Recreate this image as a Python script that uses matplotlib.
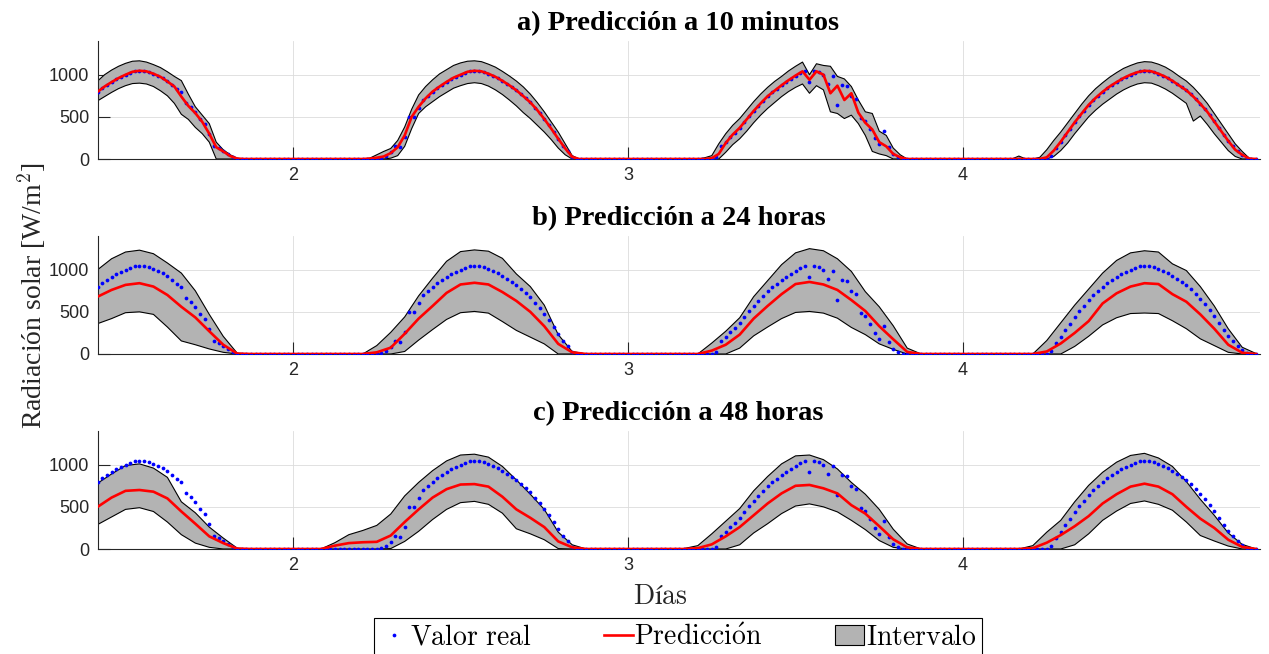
import numpy as np
import matplotlib
matplotlib.use("Agg")
import matplotlib.pyplot as plt
from matplotlib.lines import Line2D
from matplotlib.patches import Patch

plt.rcParams["font.family"] = ["Liberation Sans", "DejaVu Sans"]
plt.rcParams["mathtext.fontset"] = "cm"

# measured radiation, one value every 20 min (day 1 starts at 10:00)
real = [
    [797, 842, 877, 912, 947, 972, 1000, 1025, 1040, 1047, 1045, 1033, 1012, 985, 958, 920,
     880, 830, 790, 665, 615, 560, 475, 415, 300, 160, 125, 95, 60, 22, 5,
     0, 0, 0, 0, 0, 0, 0, 0, 0, 0, 0],
    [0, 0, 0, 0, 0, 0, 0, 0, 0, 0, 0, 0, 0, 0, 0, 0, 0, 0,
     5, 15, 35, 80, 160, 145, 260, 500, 500, 600, 700, 752, 797, 842, 877, 912, 947, 972,
     1000, 1025, 1040, 1047, 1045, 1033, 1012, 985, 958, 928, 893, 855, 815, 770, 722, 672,
     610, 547, 475, 400, 320, 240, 160, 90, 25,
     0, 0, 0, 0, 0, 0, 0, 0, 0, 0, 0],
    [0, 0, 0, 0, 0, 0, 0, 0, 0, 0, 0, 0, 0, 0, 0, 0, 0, 0,
     5, 20, 150, 200, 260, 310, 370, 440, 510, 575, 630, 690, 745, 790, 830, 875, 915, 955,
     990, 1020, 1045, 910, 1045, 1030, 1000, 890, 990, 645, 880, 870, 750, 711, 486, 454,
     355, 249, 178, 336, 138, 59, 20, 5,
     0, 0, 0, 0, 0, 0, 0, 0, 0, 0, 0, 0],
    [0, 0, 0, 0, 0, 0, 0, 0, 0, 0, 0, 0, 0, 0, 0, 0, 0, 0,
     5, 40, 128, 205, 290, 357, 435, 505, 575, 642, 700, 752, 797, 842, 877, 912, 947, 972,
     1000, 1025, 1040, 1047, 1045, 1033, 1012, 985, 958, 928, 893, 855, 815, 770, 715, 655,
     590, 520, 445, 365, 285, 215, 150, 95, 50, 10,
     0, 0],
]

# a) 10-minute forecast, one value every 30 min
pred_10m = [
    [797, 860, 912, 960, 1000, 1035, 1047, 1040, 1012, 975, 920, 860, 740, 630, 545, 440,
     300, 140, 90, 35, 5, 0, 0, 0, 0, 0, 0, 0],
    [0, 0, 0, 0, 0, 0, 0, 0, 0, 0, 0,
     5, 15, 30, 70, 140, 280, 500, 620, 720, 800, 860, 915, 965, 1000, 1035, 1047, 1040,
     1012, 975, 928, 874, 815, 745, 672, 580, 475, 360, 240, 125, 25,
     0, 0, 0, 0, 0, 0, 0],
    [0, 0, 0, 0, 0, 0, 0, 0, 0, 0, 0,
     0, 10, 60, 190, 290, 370, 470, 570, 660, 745, 810, 875, 935, 990, 1040, 940, 1040,
     1000, 780, 870, 700, 780, 550, 430, 350, 200, 150, 60, 20, 0,
     0, 0, 0, 0, 0, 0, 0],
    [0, 0, 0, 0, 0, 0, 0, 0, 0, 0, 0,
     0, 20, 100, 205, 320, 435, 540, 642, 725, 797, 860, 912, 960, 1000, 1030, 1047, 1040,
     1012, 975, 928, 870, 815, 740, 655, 560, 445, 330, 215, 110, 50, 5, 0],
]
hi_10m = [
    [925, 1000, 1055, 1100, 1135, 1160, 1165, 1150, 1120, 1085, 1035, 980, 930, 770, 620, 520,
     420, 200, 110, 50, 10, 0, 0, 0, 0, 0, 0, 0],
    [0, 0, 0, 0, 0, 0, 0, 0, 0, 0, 0,
     10, 50, 90, 125, 220, 380, 590, 760, 860, 940, 1010, 1060, 1110, 1140, 1160, 1165, 1155,
     1125, 1090, 1040, 985, 925, 855, 770, 670, 560, 440, 320, 180, 40,
     0, 0, 0, 0, 0, 0, 0],
    [0, 0, 0, 0, 0, 0, 0, 0, 0, 0, 0,
     15, 40, 180, 300, 400, 480, 580, 680, 770, 850, 920, 980, 1045, 1100, 1150, 1000, 1130,
     1110, 1100, 980, 950, 860, 700, 560, 540, 330, 280, 130, 50, 0,
     0, 0, 0, 0, 0, 0, 0],
    [0, 0, 0, 0, 0, 0, 0, 0, 35, 0, 0,
     20, 110, 220, 320, 430, 540, 650, 750, 835, 905, 970, 1025, 1075, 1110, 1140, 1155, 1150,
     1125, 1090, 1040, 980, 925, 850, 760, 660, 540, 420, 300, 180, 90, 10, 0],
]
lo_10m = [
    [690, 740, 790, 835, 870, 895, 900, 890, 860, 810, 750, 660, 530, 470, 375, 300,
     200, 0, 0, 0, 0, 0, 0, 0, 0, 0, 0, 0],
    [0, 0, 0, 0, 0, 0, 0, 0, 0, 0, 0,
     0, 0, 0, 10, 40, 150, 360, 540, 620, 680, 740, 790, 840, 870, 895, 905, 895,
     865, 820, 765, 700, 630, 550, 480, 400, 320, 230, 130, 50, 0,
     0, 0, 0, 0, 0, 0, 0],
    [0, 0, 0, 0, 0, 0, 0, 0, 0, 0, 0,
     0, 0, 0, 80, 170, 240, 330, 430, 520, 600, 670, 740, 800, 850, 890, 780, 870,
     820, 560, 540, 480, 520, 420, 280, 90, 60, 40, 0, 0, 0,
     0, 0, 0, 0, 0, 0, 0],
    [0, 0, 0, 0, 0, 0, 0, 0, 0, 0, 0,
     0, 0, 30, 100, 190, 300, 400, 500, 580, 650, 710, 770, 820, 860, 890, 905, 900,
     870, 830, 780, 720, 660, 450, 510, 410, 300, 200, 100, 30, 0, 0, 0],
]

# b) 24-hour forecast, hourly
pred_24h = [
    [680, 760, 820, 840, 800, 700, 560, 434, 270, 110, 5, 0, 0, 0],
    [0, 0, 0, 0, 0, 0, 20, 75, 240, 420, 570, 725, 825, 845, 825, 735, 630, 500, 330, 120, 20, 0, 0, 0],
    [0, 0, 0, 0, 0, 0, 40, 110, 230, 420, 570, 710, 830, 855, 825, 760, 640, 510, 330, 175, 25, 0, 0, 0],
    [0, 0, 0, 0, 0, 0, 30, 125, 250, 390, 600, 720, 800, 840, 830, 710, 620, 470, 300, 110, 15, 0],
]
hi_24h = [
    [1000, 1130, 1210, 1232, 1190, 1080, 960, 750, 470, 210, 10, 0, 0, 0],
    [0, 0, 0, 0, 0, 0, 100, 257, 440, 690, 900, 1100, 1215, 1235, 1220, 1135, 950, 800, 580, 230, 30, 0, 0, 0],
    [0, 0, 0, 0, 0, 0, 130, 270, 430, 680, 870, 1060, 1200, 1250, 1225, 1130, 980, 740, 560, 335, 70, 0, 0, 0],
    [0, 0, 0, 0, 0, 0, 160, 370, 580, 770, 960, 1110, 1200, 1225, 1210, 1070, 990, 800, 570, 300, 80, 5],
]
lo_24h = [
    [360, 420, 490, 500, 470, 320, 155, 110, 60, 20, 0, 0, 0, 0],
    [0, 0, 0, 0, 0, 0, 0, 0, 30, 165, 290, 410, 490, 505, 485, 385, 280, 200, 120, 0, 0, 0, 0, 0],
    [0, 0, 0, 0, 0, 0, 0, 0, 70, 215, 320, 420, 493, 505, 485, 425, 315, 230, 120, 55, 0, 0, 0, 0],
    [0, 0, 0, 0, 0, 0, 0, 0, 90, 210, 345, 430, 480, 486, 480, 395, 300, 180, 100, 20, 0, 0],
]

# c) 48-hour forecast, hourly
pred_48h = [
    [500, 610, 690, 700, 680, 600, 445, 300, 150, 70, 5, 0, 0, 0],
    [0, 0, 0, 40, 70, 80, 85, 160, 320, 470, 610, 710, 765, 770, 740, 620, 470, 370, 260, 90, 20, 0, 0, 0],
    [0, 0, 0, 0, 0, 10, 55, 150, 260, 400, 540, 660, 750, 760, 720, 660, 520, 420, 270, 115, 20, 0, 0, 0],
    [0, 0, 0, 0, 0, 10, 75, 165, 270, 390, 540, 650, 740, 775, 740, 650, 500, 360, 250, 110, 25, 0],
]
hi_48h = [
    [780, 890, 990, 1010, 960, 850, 560, 430, 260, 130, 10, 0, 0, 0],
    [0, 0, 0, 75, 170, 220, 280, 415, 630, 790, 930, 1045, 1115, 1125, 1090, 980, 820, 650, 470, 200, 50, 0, 0, 0],
    [0, 0, 0, 0, 5, 40, 180, 330, 480, 690, 860, 1010, 1105, 1115, 1060, 950, 790, 650, 470, 235, 60, 0, 0, 0],
    [0, 0, 0, 0, 0, 40, 200, 340, 560, 755, 910, 1030, 1110, 1135, 1080, 980, 800, 590, 400, 190, 55, 0],
]
lo_48h = [
    [290, 380, 470, 490, 445, 320, 170, 70, 20, 0, 0, 0, 0, 0],
    [0, 0, 0, 0, 0, 0, 0, 5, 90, 210, 350, 470, 550, 565, 530, 425, 240, 180, 110, 5, 0, 0, 0, 0],
    [0, 0, 0, 0, 0, 0, 0, 0, 50, 190, 300, 420, 510, 535, 500, 440, 340, 230, 100, 20, 0, 0, 0, 0],
    [0, 0, 0, 0, 0, 0, 0, 0, 50, 180, 340, 450, 540, 570, 530, 460, 320, 160, 95, 35, 0, 0],
]

titles = ["a) Predicción a 10 minutos", "b) Predicción a 24 horas", "c) Predicción a 48 horas"]
GRAY = (0.7, 0.7, 0.7)
AXC = "#262626"


def stitch(days, per_day):
    # days 1..4, first day begins at 10:00
    t, v = [], []
    for d, vals in enumerate(days):
        first = 10 * per_day // 24 if d == 0 else 0
        t += [1 + d + (first + k) / per_day for k in range(len(vals))]
        v += vals
    return np.array(t), np.array(v, dtype=float)


t_real, y_real = stitch(real, 72)
series = [(pred_10m, lo_10m, hi_10m, 48), (pred_24h, lo_24h, hi_24h, 24), (pred_48h, lo_48h, hi_48h, 24)]

fig = plt.figure(figsize=(12.69, 6.54), dpi=100)
W, H = 1269, 654
x0 = 1 + 10 / 24
left_px, right_px = 97.6, 1259.5
bottoms = [159, 354, 549]

for i, (pred, lo, hi, per_day) in enumerate(series):
    ax = fig.add_axes([left_px / W, 1 - bottoms[i] / H, (right_px - left_px) / W, 118 / H])
    t, p = stitch(pred, per_day)
    _, l = stitch(lo, per_day)
    _, h = stitch(hi, per_day)

    ax.fill_between(t, l, h, facecolor=GRAY, edgecolor="none", zorder=1)
    ax.plot(t, h, color="k", lw=0.8, zorder=2)
    ax.plot(t, l, color="k", lw=0.8, zorder=2)
    ax.plot(t_real, y_real, ls="none", marker="o", ms=2.7, mew=0, color="b", zorder=3)
    ax.plot(t, p, color="r", lw=1.9, zorder=4)

    ax.set_xlim(x0, 4.885)
    ax.set_ylim(0, 1400)
    ax.set_xticks([2, 3, 4])
    ax.set_yticks([0, 500, 1000])
    ax.grid(True, color="#dcdcdc", lw=0.6)
    ax.set_axisbelow(True)
    for s in ["top", "right"]:
        ax.spines[s].set_visible(False)
    for s in ["left", "bottom"]:
        ax.spines[s].set_color(AXC)
        ax.spines[s].set_linewidth(0.8)
    ax.tick_params(direction="in", length=8.5, width=0.8, colors=AXC, labelsize=13, pad=6)
    ax.set_title(titles[i], family="Liberation Serif", fontweight="bold", fontsize=20.5, pad=8)

fig.text(32 / W, 1 - 296 / H, "Radiación solar [W/m$^{2}$]", rotation=90, ha="center", va="center",
         family="Liberation Serif", fontsize=20, color=AXC)
fig.text(660 / W, 1 - 597 / H, r"$\mathrm{Días}$", ha="center", va="center", fontsize=20, color=AXC)

handles = [
    Line2D([], [], ls="none", marker="o", ms=2.7, mew=0, color="b"),
    Line2D([], [], color="r", lw=1.9),
    Patch(facecolor=GRAY, edgecolor="k", lw=0.8),
]
labels = [r"$\mathrm{Valor\ real}$", r"$\mathrm{Predicci\acute{o}n}$", r"$\mathrm{Intervalo}$"]
leg = fig.legend(handles, labels, loc="upper center", bbox_to_anchor=(678 / W, 1 - 618 / H), ncol=3,
                 fancybox=False, edgecolor="k", framealpha=1, fontsize=20, columnspacing=2.6,
                 handlelength=1.05, handletextpad=0.05, borderpad=0.2, borderaxespad=0)
leg.get_frame().set_linewidth(0.8)

fig.savefig("out.png", dpi=100)
